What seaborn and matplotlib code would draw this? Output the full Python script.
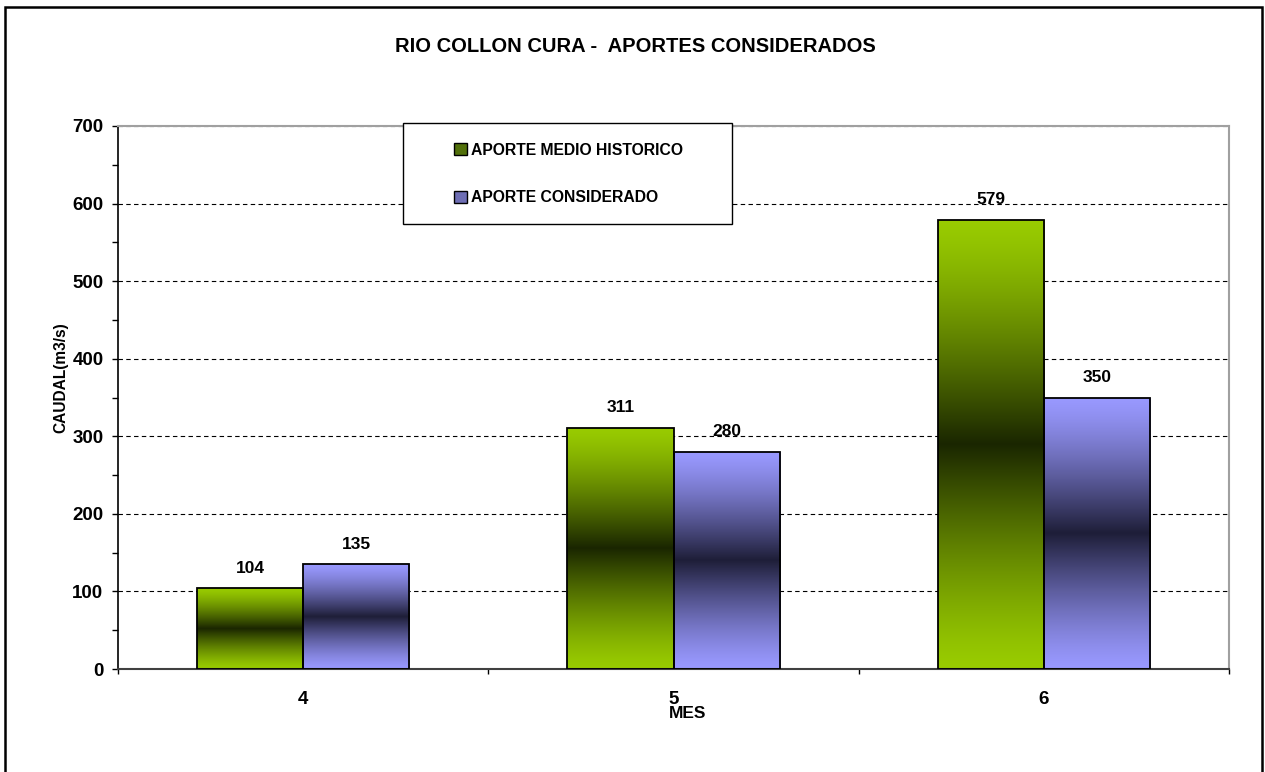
import numpy as np
import pandas as pd
import seaborn as sns
import matplotlib.pyplot as plt
from matplotlib.colors import to_rgb
from matplotlib.patches import Patch, Rectangle
from matplotlib.ticker import MultipleLocator, FixedLocator

# datos
meses = ['4', '5', '6']
series = ['APORTE MEDIO HISTORICO', 'APORTE CONSIDERADO']
medio_historico = [104, 311, 579]
considerado = [135, 280, 350]

light = {series[0]: '#99CC00', series[1]: '#9999FF'}
dark = {series[0]: '#1A2600', series[1]: '#1E1E38'}
legend_col = {series[0]: '#52700A', series[1]: '#6E6EB4'}

df = pd.DataFrame({
    'MES': meses * 2,
    'serie': [series[0]] * len(meses) + [series[1]] * len(meses),
    'caudal': medio_historico + considerado,
})

sns.set_style('ticks')
plt.rcParams['font.family'] = ['Liberation Sans', 'DejaVu Sans']
plt.rcParams['font.weight'] = 'bold'
plt.rcParams['text.color'] = 'black'
plt.rcParams['axes.labelcolor'] = 'black'

fig = plt.figure(figsize=(12.65, 7.72), dpi=100)
ax = fig.add_axes([118 / 1265, 1 - 669 / 772, 1111 / 1265, 543 / 772])

sns.barplot(data=df, x='MES', y='caudal', hue='serie', hue_order=series, order=meses,
            palette=light, width=0.574, edgecolor='black', linewidth=1.3,
            legend=False, ax=ax, zorder=3)

# relleno degradado (claro - oscuro - claro)
s = np.linspace(0, 1, 256)
t = (1 - np.abs(2 * s - 1)) ** 1.3
for cont, name in zip(ax.containers, series):
    lo = np.array(to_rgb(light[name]))
    hi = np.array(to_rgb(dark[name]))
    img = (lo + (hi - lo) * t[:, None])[:, None, :]
    for bar in cont:
        x0, y0 = bar.get_x(), bar.get_y()
        w, h = bar.get_width(), bar.get_height()
        im = ax.imshow(img, extent=(x0, x0 + w, y0, y0 + h), origin='lower',
                       aspect='auto', interpolation='bilinear', zorder=2)
        im.set_clip_path(bar)
        bar.set_facecolor('none')
        ax.annotate(f'{int(round(h))}', (x0 + w / 2, h), xytext=(0, 9),
                    textcoords='offset points', ha='center', va='bottom',
                    fontsize=12.5, fontweight='bold', color='black')

ax.set_xlim(-0.5, 2.5)
ax.set_ylim(0, 700)
ax.yaxis.set_major_locator(MultipleLocator(100))
ax.yaxis.set_minor_locator(MultipleLocator(50))
ax.tick_params(axis='y', which='both', direction='out', left=True, length=4.5,
               width=1, color='black', labelsize=13.5, pad=6, labelcolor='black')
ax.xaxis.set_minor_locator(FixedLocator([-0.5, 0.5, 1.5, 2.5]))
ax.tick_params(axis='x', which='major', length=0, pad=16, labelsize=13.5, labelcolor='black')
ax.tick_params(axis='x', which='minor', direction='out', bottom=True, length=3.5,
               width=1, color='black')
ax.grid(axis='y', which='major', linestyle=(0, (4, 3)), color='black', lw=0.8)
ax.set_axisbelow(True)

for side in ['top', 'right']:
    ax.spines[side].set_visible(True)
    ax.spines[side].set_color('#A0A0A0')
    ax.spines[side].set_linewidth(1.5)
ax.spines['left'].set_color('black')
ax.spines['left'].set_linewidth(1.2)
ax.spines['bottom'].set_color('#404040')
ax.spines['bottom'].set_linewidth(1.5)

ax.set_ylabel('CAUDAL(m3/s)', fontsize=11.2, fontweight='bold', va='center', color='black')
ax.yaxis.set_label_coords(-0.0513, (669 - 378) / 543)
ax.set_xlabel('MES', fontsize=12.5, fontweight='bold', va='center', color='black')
ax.xaxis.set_label_coords((688 - 118) / 1111, (669 - 714) / 543)

# caja de leyenda
ax.add_patch(Rectangle(((403 - 118) / 1111, (669 - 224) / 543), 329 / 1111, 101 / 543,
                       transform=ax.transAxes, facecolor='white', edgecolor='black',
                       lw=1, clip_on=False, zorder=4))
handles = [Patch(facecolor=legend_col[n], edgecolor='black', lw=1) for n in series]
leg = ax.legend(handles, series, loc='center left',
                bbox_to_anchor=((454 - 118) / 1111, (669 - 174) / 543),
                frameon=False, borderpad=0, borderaxespad=0, handlelength=0.8,
                handleheight=0.8, handletextpad=0.3, labelspacing=2.1,
                prop={'size': 11.3, 'weight': 'bold'})
leg.set_zorder(5)
for txt in leg.get_texts():
    txt.set_color('black')

fig.text(635 / 1265, 1 - 47 / 772, 'RIO COLLON CURA -  APORTES CONSIDERADOS',
         ha='center', va='center', fontsize=14.5, fontweight='bold', color='black')

fig.add_artist(Rectangle((5 / 1265, -0.1), 1257 / 1265, 1 - 7 / 772 + 0.1,
                         transform=fig.transFigure, fill=False, edgecolor='black',
                         lw=1.8, clip_on=False))

fig.savefig('out.png', dpi=100)
